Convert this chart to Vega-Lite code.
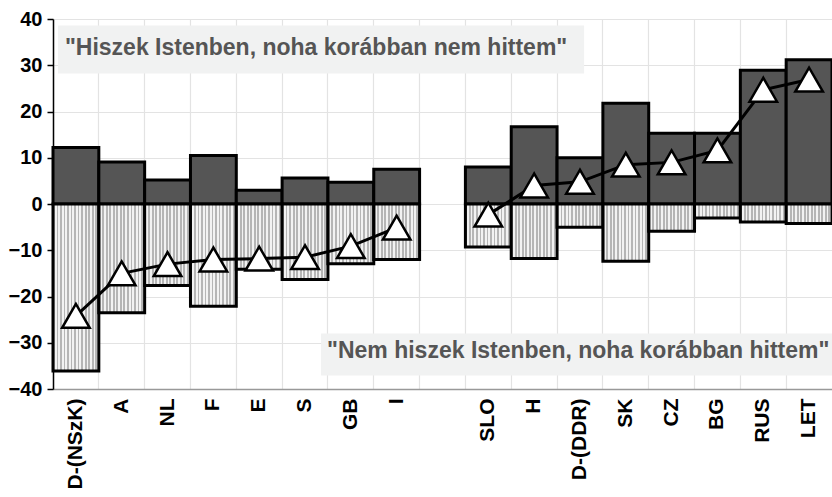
{
  "$schema": "https://vega.github.io/schema/vega-lite/v6.json",
  "width": 779,
  "height": 370,
  "autosize": "none",
  "padding": {"left": 53, "top": 19, "right": 0, "bottom": 108},
  "background": "white",
  "config": {
    "view": {"stroke": null},
    "font": "Liberation Sans"
  },
  "datasets": {
    "main": [
      {"country": "D-(NSzK)", "pos": 12.2, "neg": -36.1, "net": -24.2, "grp": "W"},
      {"country": "A", "pos": 9.1, "neg": -23.5, "net": -15.0, "grp": "W"},
      {"country": "NL", "pos": 5.2, "neg": -17.6, "net": -13.0, "grp": "W"},
      {"country": "F", "pos": 10.5, "neg": -22.1, "net": -12.0, "grp": "W"},
      {"country": "E", "pos": 3.0, "neg": -14.1, "net": -11.8, "grp": "W"},
      {"country": "S", "pos": 5.6, "neg": -16.3, "net": -11.5, "grp": "W"},
      {"country": "GB", "pos": 4.7, "neg": -12.9, "net": -9.1, "grp": "W"},
      {"country": "I", "pos": 7.5, "neg": -12.0, "net": -5.1, "grp": "W"},
      {"country": "SLO", "pos": 8.0, "neg": -9.3, "net": -2.3, "grp": "E"},
      {"country": "H", "pos": 16.7, "neg": -11.8, "net": 4.0, "grp": "E"},
      {"country": "D-(DDR)", "pos": 10.0, "neg": -5.0, "net": 4.8, "grp": "E"},
      {"country": "SK", "pos": 21.8, "neg": -12.4, "net": 8.5, "grp": "E"},
      {"country": "CZ", "pos": 15.3, "neg": -5.9, "net": 9.0, "grp": "E"},
      {"country": "BG", "pos": 15.3, "neg": -3.0, "net": 11.6, "grp": "E"},
      {"country": "RUS", "pos": 28.9, "neg": -3.9, "net": 24.7, "grp": "E"},
      {"country": "LET", "pos": 31.2, "neg": -4.2, "net": 26.9, "grp": "E"}
    ],
    "note1": [
      {"xs": "D-(NSzK)", "xe": "D-(DDR)", "y0": 38.6, "y1": 28.2, "ty": 33.7, "label": "\"Hiszek Istenben, noha korábban nem hittem\""}
    ],
    "note2": [
      {"xs": "S", "xe": "LET", "y0": -28.0, "y1": -37.1, "ty": -31.8, "label": "\"Nem hiszek Istenben, noha korábban hittem\""}
    ]
  },
  "encoding": {
    "x": {
      "field": "country",
      "type": "nominal",
      "sort": null,
      "scale": {
        "domain": ["D-(NSzK)", "A", "NL", "F", "E", "S", "GB", "I", " ", "SLO", "H", "D-(DDR)", "SK", "CZ", "BG", "RUS", "LET"],
        "paddingInner": 0,
        "paddingOuter": 0
      },
      "axis": {
        "title": null,
        "labelAngle": -90,
        "labelAlign": "right",
        "labelBaseline": "middle",
        "labelFontSize": 21,
        "labelFontWeight": "bold",
        "labelColor": "black",
        "labelPadding": 9,
        "ticks": false,
        "domainColor": "#999999",
        "domainWidth": 1.5,
        "grid": true,
        "bandPosition": 0,
        "gridColor": "#e3e3e3",
        "gridWidth": 1.2
      }
    },
    "y": {
      "type": "quantitative",
      "scale": {"domain": [-40, 40], "nice": false},
      "axis": {
        "title": null,
        "grid": true,
        "tickCount": 8,
        "labelFontSize": 20,
        "labelFontWeight": 900,
        "labelColor": "black",
        "labelPadding": 5,
        "tickSize": 6,
        "tickColor": "black",
        "tickWidth": 1.5,
        "domainColor": "black",
        "domainWidth": 1.5,
        "gridColor": "#e3e3e3",
        "gridWidth": 1.2
      }
    }
  },
  "layer": [
    {
      "data": {"name": "main"},
      "mark": {"type": "bar", "fill": "#555555", "stroke": "black", "strokeWidth": 3},
      "encoding": {
        "y": {"field": "pos"},
        "y2": {"datum": 0}
      }
    },
    {
      "data": {"name": "main"},
      "mark": {
        "type": "bar",
        "stroke": "black",
        "strokeWidth": 3,
        "fill": {
          "gradient": "linear",
          "x1": 0, "y1": 0, "x2": 1, "y2": 0,
          "stops": [
            {"offset": 0.0, "color": "#b5b5b5"}, {"offset": 0.04, "color": "#b5b5b5"}, {"offset": 0.04, "color": "#f2f2f2"}, {"offset": 0.077, "color": "#f2f2f2"},
            {"offset": 0.077, "color": "#b5b5b5"}, {"offset": 0.117, "color": "#b5b5b5"}, {"offset": 0.117, "color": "#f2f2f2"}, {"offset": 0.154, "color": "#f2f2f2"},
            {"offset": 0.154, "color": "#b5b5b5"}, {"offset": 0.194, "color": "#b5b5b5"}, {"offset": 0.194, "color": "#f2f2f2"}, {"offset": 0.231, "color": "#f2f2f2"},
            {"offset": 0.231, "color": "#b5b5b5"}, {"offset": 0.271, "color": "#b5b5b5"}, {"offset": 0.271, "color": "#f2f2f2"}, {"offset": 0.308, "color": "#f2f2f2"},
            {"offset": 0.308, "color": "#b5b5b5"}, {"offset": 0.348, "color": "#b5b5b5"}, {"offset": 0.348, "color": "#f2f2f2"}, {"offset": 0.385, "color": "#f2f2f2"},
            {"offset": 0.385, "color": "#b5b5b5"}, {"offset": 0.425, "color": "#b5b5b5"}, {"offset": 0.425, "color": "#f2f2f2"}, {"offset": 0.462, "color": "#f2f2f2"},
            {"offset": 0.462, "color": "#b5b5b5"}, {"offset": 0.502, "color": "#b5b5b5"}, {"offset": 0.502, "color": "#f2f2f2"}, {"offset": 0.538, "color": "#f2f2f2"},
            {"offset": 0.538, "color": "#b5b5b5"}, {"offset": 0.578, "color": "#b5b5b5"}, {"offset": 0.578, "color": "#f2f2f2"}, {"offset": 0.615, "color": "#f2f2f2"},
            {"offset": 0.615, "color": "#b5b5b5"}, {"offset": 0.655, "color": "#b5b5b5"}, {"offset": 0.655, "color": "#f2f2f2"}, {"offset": 0.692, "color": "#f2f2f2"},
            {"offset": 0.692, "color": "#b5b5b5"}, {"offset": 0.732, "color": "#b5b5b5"}, {"offset": 0.732, "color": "#f2f2f2"}, {"offset": 0.769, "color": "#f2f2f2"},
            {"offset": 0.769, "color": "#b5b5b5"}, {"offset": 0.809, "color": "#b5b5b5"}, {"offset": 0.809, "color": "#f2f2f2"}, {"offset": 0.846, "color": "#f2f2f2"},
            {"offset": 0.846, "color": "#b5b5b5"}, {"offset": 0.886, "color": "#b5b5b5"}, {"offset": 0.886, "color": "#f2f2f2"}, {"offset": 0.923, "color": "#f2f2f2"},
            {"offset": 0.923, "color": "#b5b5b5"}, {"offset": 0.963, "color": "#b5b5b5"}, {"offset": 0.963, "color": "#f2f2f2"}, {"offset": 1.0, "color": "#f2f2f2"}
          ]
        }
      },
      "encoding": {
        "y": {"field": "neg"},
        "y2": {"datum": 0}
      }
    },
    {
      "mark": {"type": "rule", "color": "black", "strokeWidth": 2.5},
      "encoding": {"x": null, "y": {"datum": 0, "type": "quantitative"}}
    },
    {
      "mark": {"type": "rule", "color": "#999999", "strokeWidth": 1.5},
      "encoding": {"x": null, "y": {"datum": 40, "type": "quantitative"}}
    },
    {
      "data": {"name": "main"},
      "mark": {"type": "line", "color": "black", "strokeWidth": 3},
      "encoding": {
        "y": {"field": "net"},
        "detail": {"field": "grp"}
      }
    },
    {
      "data": {"name": "main"},
      "mark": {"type": "point", "shape": "triangle-up", "filled": true, "fill": "white", "stroke": "black", "strokeWidth": 2.5, "size": 760, "opacity": 1},
      "encoding": {
        "y": {"field": "net"}
      }
    },
    {
      "data": {"name": "note1"},
      "mark": {"type": "rect", "fill": "#f1f2f2"},
      "encoding": {
        "x": {"field": "xs", "type": "nominal", "bandPosition": 0.11},
        "x2": {"field": "xe", "bandPosition": 0.59},
        "y": {"field": "y0"},
        "y2": {"field": "y1"}
      }
    },
    {
      "data": {"name": "note1"},
      "mark": {"type": "text", "align": "left", "baseline": "middle", "fontSize": 23, "fontWeight": "bold", "color": "#555555"},
      "encoding": {
        "x": {"field": "xs", "type": "nominal", "bandPosition": 0.26},
        "y": {"field": "ty"},
        "text": {"field": "label"}
      }
    },
    {
      "data": {"name": "note2"},
      "mark": {"type": "rect", "fill": "#f1f2f2"},
      "encoding": {
        "x": {"field": "xs", "type": "nominal", "bandPosition": 0.85},
        "x2": {"field": "xe", "bandPosition": 1},
        "y": {"field": "y0"},
        "y2": {"field": "y1"}
      }
    },
    {
      "data": {"name": "note2"},
      "mark": {"type": "text", "align": "left", "baseline": "middle", "fontSize": 23, "fontWeight": "bold", "color": "#555555"},
      "encoding": {
        "x": {"field": "xs", "type": "nominal", "bandPosition": 0.98},
        "y": {"field": "ty"},
        "text": {"field": "label"}
      }
    }
  ]
}
